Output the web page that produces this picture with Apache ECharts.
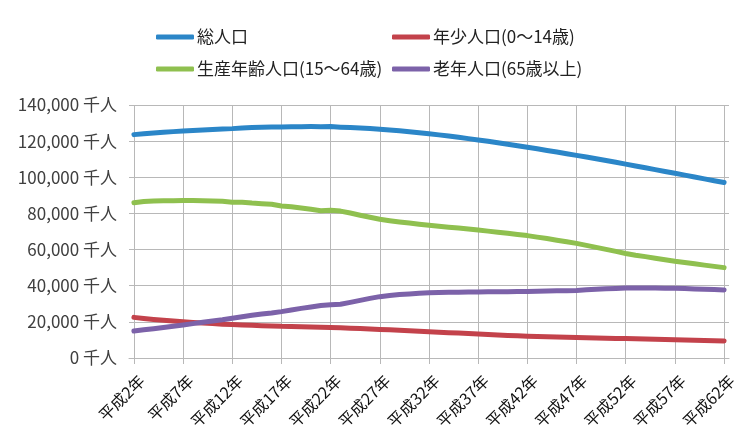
<!DOCTYPE html>
<html>
<head>
<meta charset="utf-8">
<script src="https://cdn.jsdelivr.net/npm/echarts@6/dist/echarts.min.js"></script>
<style>
  html, body { margin: 0; padding: 0; background: #ffffff; }
  #chart { width: 747px; height: 439px; }
</style>
</head>
<body>
<div id="chart"></div>
<script>
// 年（平成2年〜平成62年）
const years = [];
for (let y = 2; y <= 62; y++) years.push('平成' + y + '年');

// 人口（千人）
const totalPop = [
  123611, 124101, 124567, 124938, 125265,
  125570, 125859, 126157, 126472, 126667,
  126926, 127316, 127486, 127694, 127787,
  127768, 127901, 128033, 128084, 128032,
  128057, 127753, 127498, 127247, 126949,
  126597, 126193, 125739, 125236, 124689,
  124100, 123474, 122813, 122122, 121403,
  120659, 119891, 119102, 118293, 117465,
  116618, 115752, 114870, 113970, 113054,
  112124, 111179, 110223, 109257, 108284,
  107276, 106260, 105240, 104220, 103210,
  102210, 101184, 100158, 99130, 98103,
  97076
];
const childPop = [
  22486, 21904, 21364, 20841, 20415,
  20014, 19686, 19366, 19059, 18742,
  18472, 18283, 18102, 17905, 17734,
  17521, 17435, 17293, 17176, 17011,
  16839, 16705, 16493, 16281, 16054,
  15827, 15570, 15320, 15070, 14820,
  14568, 14300, 14030, 13770, 13500,
  13240, 12990, 12750, 12510, 12270,
  12039, 11880, 11730, 11580, 11430,
  11287, 11170, 11060, 10950, 10840,
  10732, 10610, 10490, 10360, 10240,
  10116, 9970, 9820, 9680, 9530,
  9387
];
const workingPop = [
  85904, 86557, 86845, 87023, 87034,
  87165, 87161, 87042, 86920, 86758,
  86220, 86139, 85706, 85404, 85077,
  84092, 83731, 83015, 82300, 81493,
  81735, 81300, 80200, 79000, 77900,
  76818, 76000, 75300, 74700, 74000,
  73408, 72900, 72400, 71900, 71400,
  70845, 70200, 69600, 69000, 68400,
  67730, 66900, 66100, 65200, 64300,
  63430, 62300, 61200, 60100, 59000,
  57866, 56900, 56100, 55200, 54400,
  53531, 52800, 52100, 51400, 50700,
  50013
];
const elderPop = [
  14895, 15582, 16242, 16900, 17585,
  18261, 19017, 19758, 20508, 21186,
  22005, 22869, 23628, 24311, 24876,
  25672, 26604, 27464, 28216, 29005,
  29484, 29750, 30794, 31898, 33000,
  33952, 34600, 35100, 35450, 35800,
  36124, 36300, 36380, 36450, 36500,
  36573, 36600, 36650, 36700, 36780,
  36849, 36950, 37050, 37150, 37280,
  37407, 37700, 38000, 38300, 38500,
  38678, 38750, 38782, 38740, 38650,
  38564, 38400, 38230, 38050, 37870,
  37676
];

const seriesNames = ['総人口', '年少人口(0～14歳)', '生産年齢人口(15～64歳)', '老年人口(65歳以上)'];
const seriesColors = ['#2b86c8', '#c3424b', '#8fc04f', '#7c62a9'];
const seriesData = [totalPop, childPop, workingPop, elderPop];

const FONT = '"Noto Sans CJK JP", "Noto Sans", sans-serif';
const GRID_COLOR = '#b8b8b8';
const PLOT_HEIGHT = 439 - 105 - 81;

const chart = echarts.init(document.getElementById('chart'), null, { renderer: 'canvas' });

const legendBase = {
  orient: 'vertical',
  top: 22,
  itemWidth: 38,
  itemHeight: 5,
  itemGap: 12,
  icon: 'roundRect',
  textStyle: { fontFamily: FONT, fontSize: 17, color: '#222', lineHeight: 20, padding: [0, 0, 0, -2] }
};

chart.setOption({
  backgroundColor: '#ffffff',
  animation: false,
  color: seriesColors,
  legend: [
    Object.assign({}, legendBase, { left: 151, data: [seriesNames[0], seriesNames[2]] }),
    Object.assign({}, legendBase, { left: 387, data: [seriesNames[1], seriesNames[3]] })
  ],
  grid: { left: 129, right: 18, top: 105, bottom: 81, containLabel: false },
  xAxis: [
    {
      type: 'category',
      data: years,
      boundaryGap: true,
      position: 'bottom',
      axisLine: { show: true, lineStyle: { color: GRID_COLOR, width: 1 } },
      axisTick: { show: true, alignWithLabel: true, interval: 4, length: 6, lineStyle: { color: GRID_COLOR } },
      splitLine: { show: false },
      axisLabel: {
        interval: 4,
        rotate: 45,
        margin: 12,
        verticalAlign: 'top',
        lineHeight: 22,
        fontFamily: FONT,
        fontSize: 16,
        color: '#111'
      }
    },
    {
      // vertical grid lines at every labelled year
      type: 'category',
      data: years,
      boundaryGap: true,
      position: 'top',
      axisLine: { show: false },
      axisLabel: { show: false },
      axisTick: {
        show: true, inside: true, alignWithLabel: true, interval: 4,
        length: PLOT_HEIGHT, lineStyle: { color: GRID_COLOR, width: 1 }
      },
      splitLine: { show: false }
    }
  ],
  yAxis: {
    type: 'value',
    min: 0,
    max: 140000,
    interval: 20000,
    axisLine: { show: false },
    axisTick: { show: false },
    splitLine: { show: true, lineStyle: { color: GRID_COLOR, width: 1 } },
    axisLabel: {
      margin: 12,
      fontFamily: FONT,
      fontSize: 17,
      color: '#404040',
      formatter: v => v.toLocaleString('en-US') + ' 千人'
    }
  },
  series: seriesData.map((d, i) => ({
    name: seriesNames[i],
    type: 'line',
    xAxisIndex: 0,
    data: d,
    symbol: 'none',
    smooth: false,
    lineStyle: { width: 5, color: seriesColors[i], cap: 'round', join: 'round' },
    itemStyle: { color: seriesColors[i] },
    z: [2, 3, 3, 4][i]
  }))
});
</script>
</body>
</html>
